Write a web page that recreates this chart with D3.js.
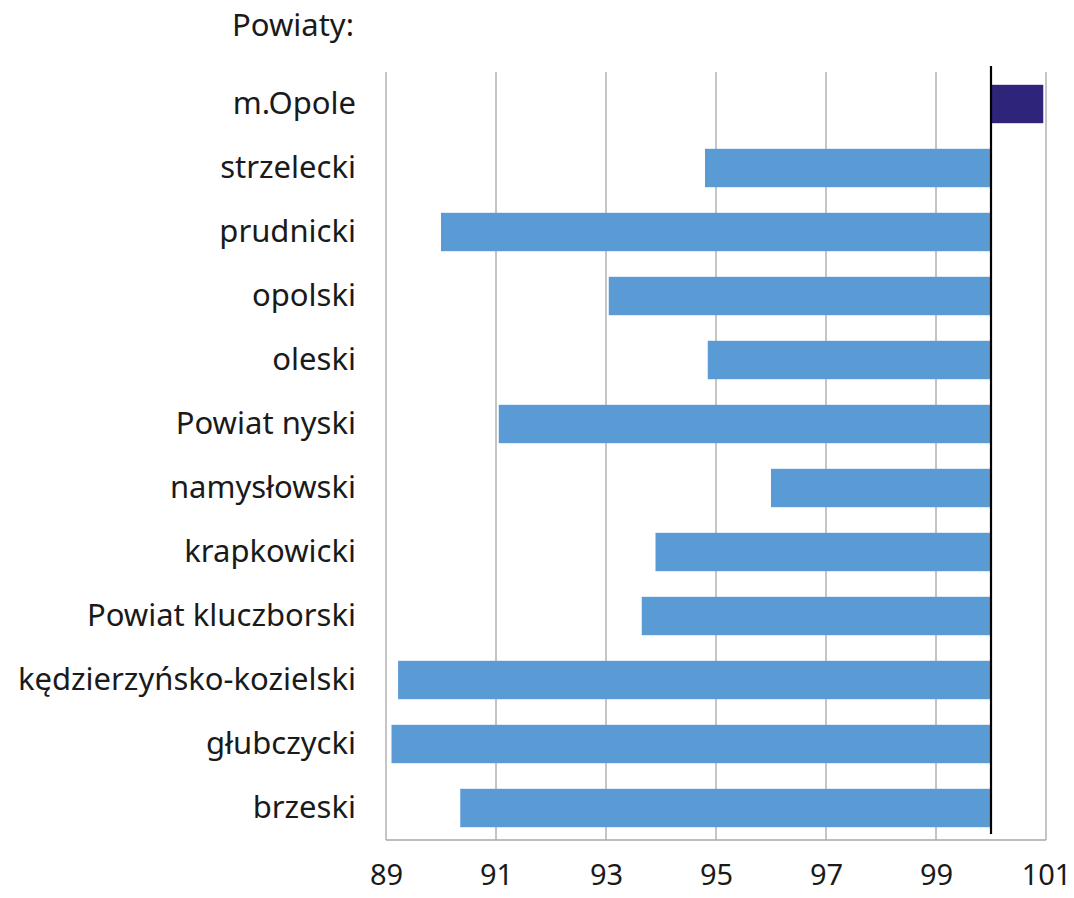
<!DOCTYPE html>
<html><head><meta charset="utf-8">
<script src="https://cdn.jsdelivr.net/npm/d3@7"></script>
<style>body{margin:0;background:#fff}svg{display:block}text{font-family:"Noto Sans",sans-serif;fill:#1a1a1a}</style>
</head><body>
<script>
const categories = ["m.Opole","strzelecki","prudnicki","opolski","oleski","Powiat nyski","namysłowski","krapkowicki","Powiat kluczborski","kędzierzyńsko-kozielski","głubczycki","brzeski"];
const values = [100.95,94.8,90.0,93.05,94.85,91.05,96.0,93.9,93.65,89.22,89.1,90.35];
const tickValues = [89,91,93,95,97,99,101];
const baseline = 100;
const title = "Powiaty:";

const W=1074,H=898;
const m={left:386,right:28,top:72,bottom:58};
const svg=d3.select("body").append("svg").attr("width",W).attr("height",H);
const x=d3.scaleLinear().domain([89,101]).range([m.left,W-m.right]);
const y=d3.scaleBand().domain(categories).range([m.top,H-m.bottom]).paddingInner(0.4).paddingOuter(0.2);

svg.append("g").selectAll("line").data(tickValues).join("line")
 .attr("x1",d=>x(d)).attr("x2",d=>x(d)).attr("y1",m.top).attr("y2",H-m.bottom)
 .attr("stroke","#a6a6a6").attr("stroke-width",1.3);
svg.append("line").attr("x1",m.left).attr("x2",W-m.right).attr("y1",H-m.bottom).attr("y2",H-m.bottom)
 .attr("stroke","#a6a6a6").attr("stroke-width",1.3);

svg.append("g").selectAll("rect").data(categories).join("rect")
 .attr("x",(d,i)=>x(Math.min(values[i],baseline)))
 .attr("width",(d,i)=>Math.abs(x(values[i])-x(baseline)))
 .attr("y",d=>y(d)).attr("height",y.bandwidth())
 .attr("fill",(d,i)=>values[i]>=baseline?"#2e2479":"#5b9bd5");

svg.append("line").attr("x1",x(baseline)).attr("x2",x(baseline)).attr("y1",m.top-6).attr("y2",H-m.bottom-6)
 .attr("stroke","#000").attr("stroke-width",2.2);

const xa=d3.axisBottom(x).tickValues(tickValues).tickSize(0).tickPadding(24);
const g=svg.append("g").attr("transform",`translate(0,${H-m.bottom})`).call(xa);
g.select(".domain").remove();
g.selectAll("text").style("font-family","'Noto Sans',sans-serif").style("font-size","29px").attr("fill","#1a1a1a").attr("dy","0.71em");

const ya=d3.axisLeft(y).tickSize(0).tickPadding(30);
const gy=svg.append("g").attr("transform",`translate(${m.left},0)`).call(ya);
gy.select(".domain").remove();
gy.selectAll("text").style("font-family","'Noto Sans',sans-serif").style("font-size","31px").attr("fill","#1a1a1a");

svg.append("text").attr("x",354).attr("y",36).attr("text-anchor","end").style("font-size","31px").text(title);
</script>
</body></html>
